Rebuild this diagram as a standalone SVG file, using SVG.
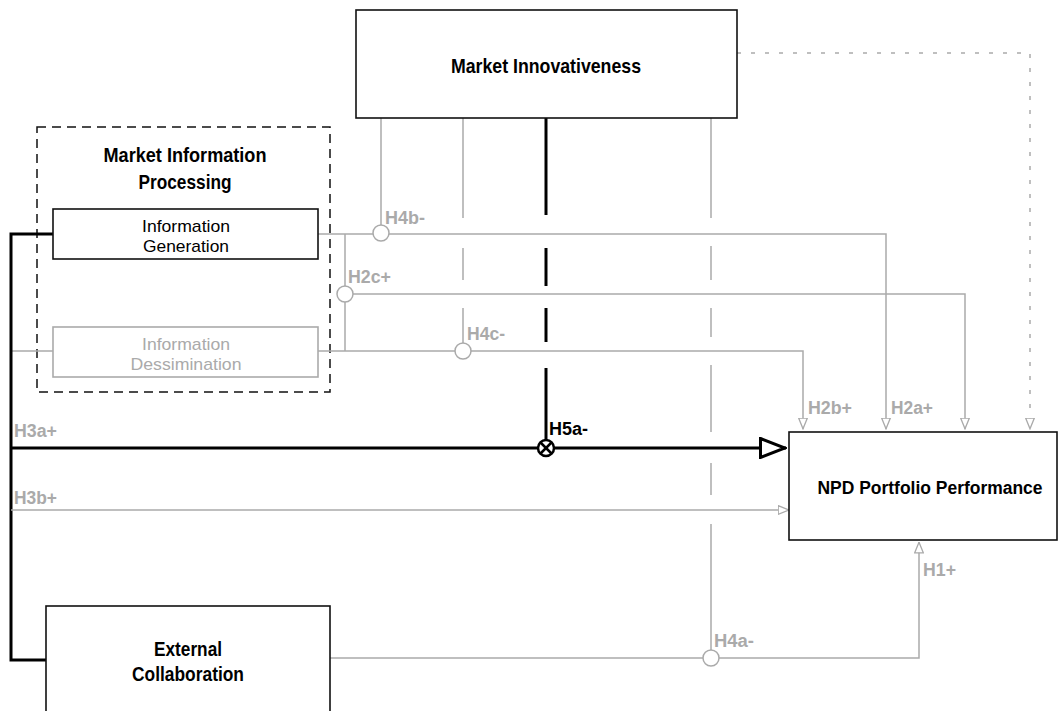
<svg xmlns="http://www.w3.org/2000/svg" width="1061" height="711" viewBox="0 0 1061 711">
<style>
.box{fill:#fff;stroke:#111;stroke-width:1.6}
.gbox{fill:#fff;stroke:#aaa;stroke-width:1.6}
.g{stroke:#aaa;stroke-width:1.5;fill:none}
.k{stroke:#000;stroke-width:3;fill:none}
.bt{font-family:"Liberation Sans Narrow","Liberation Sans",sans-serif;font-weight:bold;font-stretch:condensed;fill:#000;text-anchor:middle}
.rt{font-family:"Liberation Sans",Arial,sans-serif;font-size:17px;fill:#000;text-anchor:middle}
.lab{font-family:"Liberation Sans Narrow","Liberation Sans",sans-serif;font-weight:bold;font-stretch:condensed;font-size:18px;fill:#aaa}
.circ{fill:#fff;stroke:#aaa;stroke-width:1.5}
</style>
<defs>
<marker id="ga" viewBox="0 0 12 10" markerWidth="12" markerHeight="10" refX="11.5" refY="5" orient="auto" markerUnits="userSpaceOnUse">
<path d="M0.7,0.7 L11.3,5 L0.7,9.3 Z" fill="#fff" stroke="#aaa" stroke-width="1.3"/>
</marker>
<marker id="ka" viewBox="0 0 28 22" markerWidth="28" markerHeight="22" refX="27" refY="11" orient="auto" markerUnits="userSpaceOnUse">
<path d="M1.5,1.5 L26,11 L1.5,20.5 Z" fill="#fff" stroke="#000" stroke-width="3"/>
</marker>
</defs>

<g id="group-mip">
<rect x="37" y="127" width="293" height="265" fill="none" stroke="#111" stroke-width="1.5" stroke-dasharray="9,6"/>
<text class="bt" x="185" y="162" font-size="21" textLength="163" lengthAdjust="spacingAndGlyphs">Market Information</text>
<text class="bt" x="185" y="189" font-size="21" textLength="93" lengthAdjust="spacingAndGlyphs">Processing</text>
</g>

<g id="connectors">
<line class="g" x1="381" y1="118" x2="381" y2="225"/>
<line class="g" x1="463" y1="118" x2="463" y2="218"/>
<line class="g" x1="463" y1="248" x2="463" y2="280"/>
<line class="g" x1="463" y1="308" x2="463" y2="343"/>
<line class="k" x1="546" y1="118" x2="546" y2="215"/>
<line class="k" x1="546" y1="248" x2="546" y2="286"/>
<line class="k" x1="546" y1="308" x2="546" y2="342"/>
<line class="k" x1="546" y1="368" x2="546" y2="440"/>
<line class="g" x1="711" y1="118" x2="711" y2="218"/>
<line class="g" x1="711" y1="246" x2="711" y2="280"/>
<line class="g" x1="711" y1="308" x2="711" y2="337"/>
<line class="g" x1="711" y1="365" x2="711" y2="432"/>
<line class="g" x1="711" y1="463" x2="711" y2="495"/>
<line class="g" x1="711" y1="524" x2="711" y2="650"/>
<polyline points="737,53 1030,53 1030,429" fill="none" stroke="#aaa" stroke-width="1.5" stroke-dasharray="4,10" marker-end="url(#ga)"/>
<polyline class="g" points="318,234 886,234 886,429" marker-end="url(#ga)"/>
<line class="g" x1="345" y1="234" x2="345" y2="351"/>
<polyline class="g" points="353,294 965,294 965,429" marker-end="url(#ga)"/>
<polyline class="g" points="318,351 803,351 803,429" marker-end="url(#ga)"/>
<line class="g" x1="11" y1="351" x2="53" y2="351"/>
<polyline class="k" points="53,234 11,234 11,660 46,660"/>
<line class="k" x1="11" y1="448" x2="786" y2="448" marker-end="url(#ka)"/>
<line class="g" x1="11" y1="510" x2="789" y2="510" marker-end="url(#ga)"/>
<polyline class="g" points="330,658 919,658 919,542" marker-end="url(#ga)"/>
<circle class="circ" cx="381" cy="233" r="8"/>
<circle class="circ" cx="345" cy="294" r="8"/>
<circle class="circ" cx="463" cy="351" r="8"/>
<circle class="circ" cx="711" cy="658" r="8"/>
<g stroke="#000" stroke-width="2.5" fill="#fff">
<circle cx="546" cy="448" r="8"/>
<line x1="540.5" y1="442.5" x2="551.5" y2="453.5"/>
<line x1="551.5" y1="442.5" x2="540.5" y2="453.5"/>
</g>
<text class="lab" x="385" y="224" textLength="40" lengthAdjust="spacingAndGlyphs">H4b-</text>
<text class="lab" x="348" y="283" textLength="43" lengthAdjust="spacingAndGlyphs">H2c+</text>
<text class="lab" x="467" y="340" textLength="38" lengthAdjust="spacingAndGlyphs">H4c-</text>
<text class="lab" x="549" y="435" textLength="39" lengthAdjust="spacingAndGlyphs" style="fill:#000">H5a-</text>
<text class="lab" x="808" y="414" textLength="44" lengthAdjust="spacingAndGlyphs">H2b+</text>
<text class="lab" x="891" y="414" textLength="42" lengthAdjust="spacingAndGlyphs">H2a+</text>
<text class="lab" x="14" y="437" textLength="43" lengthAdjust="spacingAndGlyphs">H3a+</text>
<text class="lab" x="14" y="504" textLength="43" lengthAdjust="spacingAndGlyphs">H3b+</text>
<text class="lab" x="923" y="576" textLength="33" lengthAdjust="spacingAndGlyphs">H1+</text>
<text class="lab" x="714" y="647" textLength="40" lengthAdjust="spacingAndGlyphs">H4a-</text>
</g>

<g id="node-mi">
<rect class="box" x="356" y="10" width="381" height="108"/>
<text class="bt" x="546" y="72.5" font-size="21" textLength="190" lengthAdjust="spacingAndGlyphs">Market Innovativeness</text>
</g>

<g id="node-ig">
<rect class="box" x="53" y="209" width="265" height="50"/>
<text class="rt" x="186" y="232" textLength="88" lengthAdjust="spacingAndGlyphs">Information</text>
<text class="rt" x="186" y="252" textLength="86" lengthAdjust="spacingAndGlyphs">Generation</text>
</g>

<g id="node-id">
<rect class="gbox" x="53" y="327" width="265" height="50"/>
<text class="rt" x="186" y="350" textLength="88" lengthAdjust="spacingAndGlyphs" style="fill:#aaa">Information</text>
<text class="rt" x="186" y="370" textLength="111" lengthAdjust="spacingAndGlyphs" style="fill:#aaa">Dessimination</text>
</g>

<g id="node-ec">
<rect class="box" x="46" y="606" width="284" height="130"/>
<text class="bt" x="188" y="655.5" font-size="21" textLength="68" lengthAdjust="spacingAndGlyphs">External</text>
<text class="bt" x="188" y="680.5" font-size="21" textLength="112" lengthAdjust="spacingAndGlyphs">Collaboration</text>
</g>

<g id="node-npd">
<rect class="box" x="789" y="432" width="268" height="108"/>
<text class="bt" x="930" y="493.5" font-size="18" textLength="225" lengthAdjust="spacingAndGlyphs">NPD Portfolio Performance</text>
</g>
</svg>
